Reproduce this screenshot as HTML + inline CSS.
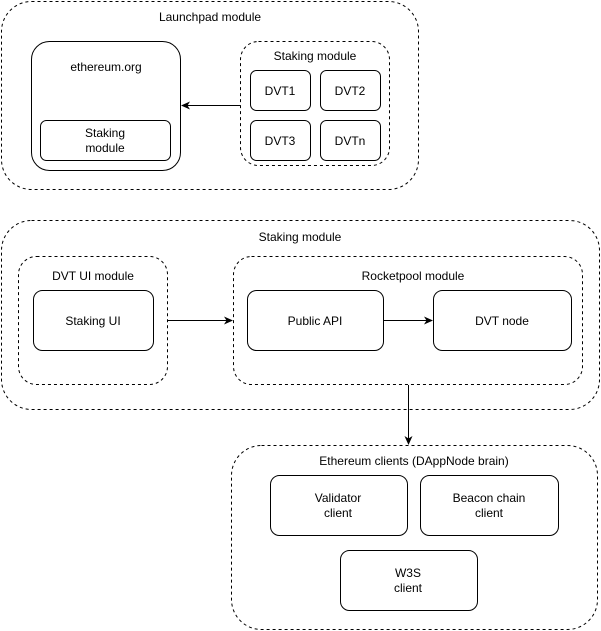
<!DOCTYPE html>
<html><head><style>body{margin:0;background:#fff}svg{display:block}text{font-family:"Liberation Sans",Helvetica,sans-serif;font-size:12px;fill:#000;text-anchor:middle}</style></head><body>
<svg width="601" height="631" viewBox="0 0 601 631" xmlns="http://www.w3.org/2000/svg">
<defs><marker id="a" markerWidth="10" markerHeight="10" refX="8" refY="5" orient="auto" markerUnits="userSpaceOnUse"><path d="M0,1 L9,5 L0,9 L2.5,5 Z" fill="#000"/></marker></defs>
<g fill="none" stroke="#000" stroke-width="1">
<g stroke-dasharray="3,3">
<rect x="1.5" y="1.5" width="417" height="188" rx="30"/>
<rect x="240.5" y="41.5" width="149" height="124" rx="18"/>
<rect x="1.5" y="220.5" width="598" height="189" rx="30"/>
<rect x="18.5" y="256.5" width="149" height="128" rx="18"/>
<rect x="233.5" y="256.5" width="349" height="128" rx="18"/>
<rect x="231.5" y="445.5" width="366" height="184" rx="30"/>
</g>
<rect x="31.5" y="41.5" width="149" height="129" rx="18"/>
<rect x="40.5" y="120.5" width="130" height="40" rx="6"/>
<rect x="250.5" y="70.5" width="60" height="40" rx="6"/>
<rect x="320.5" y="70.5" width="60" height="40" rx="6"/>
<rect x="250.5" y="120.5" width="60" height="40" rx="6"/>
<rect x="320.5" y="120.5" width="60" height="40" rx="6"/>
<rect x="33.5" y="290.5" width="120" height="60" rx="9"/>
<rect x="247.5" y="290.5" width="136" height="60" rx="9"/>
<rect x="433.5" y="290.5" width="138" height="60" rx="9"/>
<rect x="270.5" y="475.5" width="137" height="60" rx="9"/>
<rect x="420.5" y="475.5" width="138" height="60" rx="9"/>
<rect x="340.5" y="550.5" width="137" height="60" rx="9"/>
<path d="M240,105.5 L182,105.5" marker-end="url(#a)"/>
<path d="M168,320.5 L232,320.5" marker-end="url(#a)"/>
<path d="M384,320.5 L432,320.5" marker-end="url(#a)"/>
<path d="M408.5,385 L408.5,444" marker-end="url(#a)"/>
</g>
<text x="210" y="21">Launchpad module</text>
<text x="106" y="71">ethereum.org</text>
<text x="105" y="137">Staking</text><text x="105" y="152">module</text>
<text x="315" y="60">Staking module</text>
<text x="280" y="95">DVT1</text><text x="350" y="95">DVT2</text>
<text x="280" y="145">DVT3</text><text x="350" y="145">DVTn</text>
<text x="300" y="241">Staking module</text>
<text x="93" y="280">DVT UI module</text>
<text x="413" y="280">Rocketpool module</text>
<text x="93" y="325">Staking UI</text>
<text x="315" y="325">Public API</text>
<text x="502" y="325">DVT node</text>
<text x="414" y="465">Ethereum clients (DAppNode brain)</text>
<text x="338" y="502">Validator</text><text x="338" y="517">client</text>
<text x="489" y="502">Beacon chain</text><text x="489" y="517">client</text>
<text x="408" y="577">W3S</text><text x="408" y="592">client</text>
</svg>
</body></html>
